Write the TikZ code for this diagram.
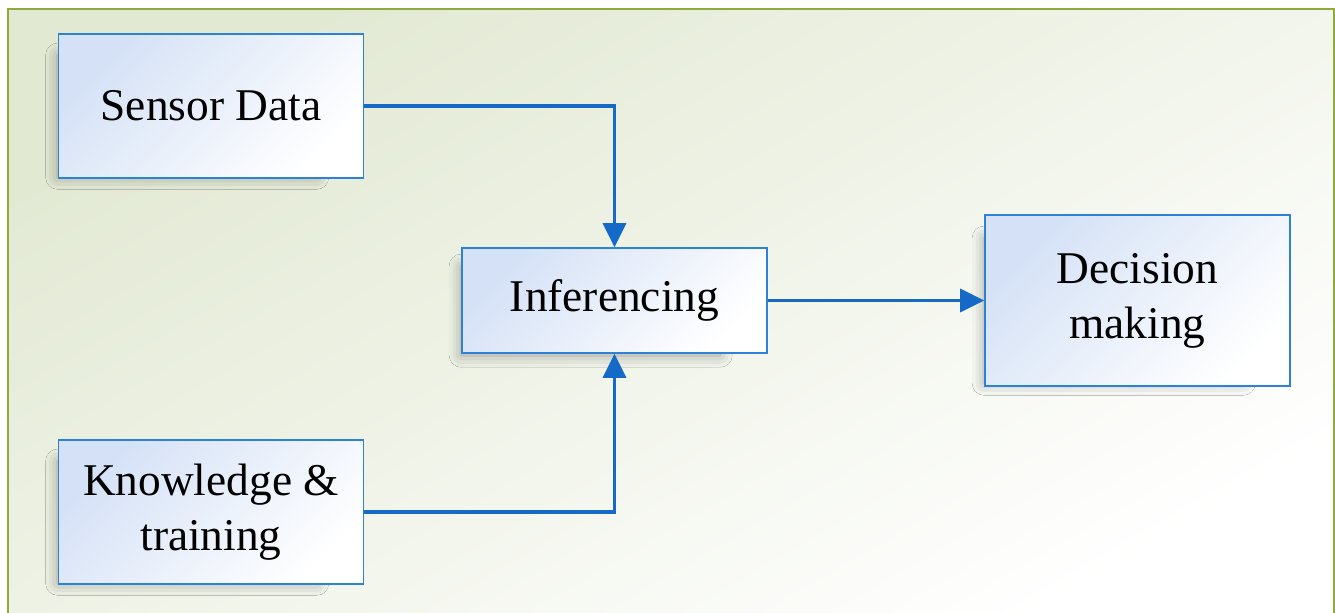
\documentclass[tikz,border=0pt]{standalone}
\usepackage{fontspec}
\setmainfont{Liberation Serif}
\usetikzlibrary{arrows.meta,shadows.blur}

\definecolor{framegreen}{RGB}{143,170,60}
\definecolor{paleolive}{RGB}{226,233,211}
\definecolor{boxblue}{RGB}{45,130,215}
\definecolor{boxfill}{RGB}{212,225,246}
\definecolor{flowblue}{RGB}{21,105,199}

\begin{document}
\begin{tikzpicture}[x=0.5pt, y=0.5pt,
	block/.style={draw=boxblue, line width=0.8pt, top color=boxfill, bottom color=white, shading angle=45,
		minimum width=152.5pt, align=center, font=\fontsize{22.7}{27.5}\selectfont,
		blur shadow={shadow xshift=-14pt, shadow yshift=-6pt, shadow scale=0.85,
			shadow blur radius=7pt, shadow opacity=35}},
	flow/.style={draw=flowblue, line width=1.6pt, -{Triangle[length=12pt,width=11.5pt]}}]

\useasboundingbox (0,0) rectangle (1335,612);
% backdrop
\path[top color=paleolive, bottom color=white, shading angle=30] (8,-20) rectangle (1334,603);
\draw[framegreen, line width=1.2pt] (8,-20) |- (1334,603) -- (1334,-20);

\node[block, minimum height=72pt] (sensor) at (211,506) {Sensor Data};
\node[block, minimum height=72pt] (know) at (211,100) {Knowledge \&\\training};
\node[block, minimum height=52.5pt] (infer) at (614.5,311.5) {Inferencing};
\node[block, minimum height=85.5pt] (decide) at (1137.5,311.5) {Decision\\making};

\draw[flow] (sensor.east) -| (infer.north);
\draw[flow] (know.east) -| (infer.south);
\draw[flow] (infer) -- (decide);

\end{tikzpicture}
\end{document}
